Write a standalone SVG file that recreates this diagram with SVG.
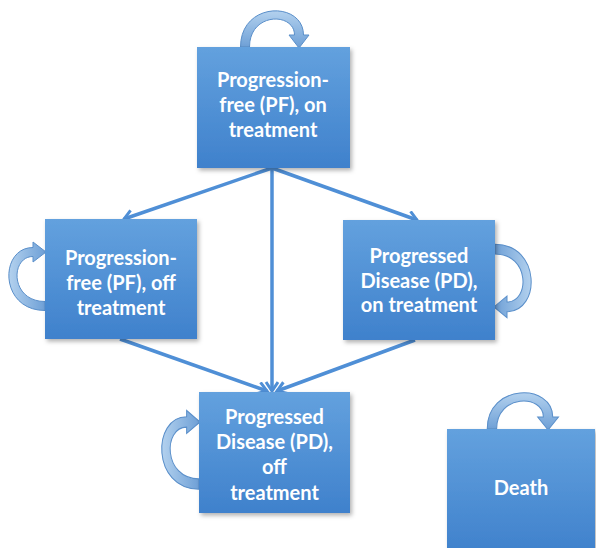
<svg xmlns="http://www.w3.org/2000/svg" width="596" height="548" viewBox="0 0 596 548">
<defs>
<linearGradient id="boxg" x1="0" y1="0" x2="0" y2="1">
<stop offset="0" stop-color="#63a1de"/>
<stop offset="1" stop-color="#3f81cc"/>
</linearGradient>
<linearGradient id="loopg" x1="0" y1="0" x2="0" y2="1">
<stop offset="0" stop-color="#b3d1ee"/>
<stop offset="1" stop-color="#6d9fd6"/>
</linearGradient>
<filter id="sh" x="-10%" y="-10%" width="125%" height="125%">
<feDropShadow dx="2" dy="2.5" stdDeviation="2" flood-color="#000" flood-opacity="0.3"/>
</filter>
<marker id="ah" markerUnits="userSpaceOnUse" markerWidth="16" markerHeight="16" refX="11" refY="7" orient="auto">
<path d="M2,1 L11,7 L2,13" fill="none" stroke="#4f8fd6" stroke-width="3" stroke-linejoin="miter"/>
</marker>
<path id="loop" d="M -31.5 0 C -31.5 -46, 31.5 -46, 31.5 -12 L 37 -12 L 27 1 L 17 -12 L 22.5 -12 C 22.5 -35, -22.5 -35, -22.5 0 Z"/>
</defs>
<style>
.box{fill:url(#boxg);filter:url(#sh);}
.lbl{font-family:Lato,"Open Sans","Liberation Sans",sans-serif;font-weight:700;font-size:20px;fill:#ffffff;text-anchor:middle;}
.lp{fill:url(#loopg);stroke:#5a8fca;stroke-width:1;}
.cn{stroke:#4f8fd6;stroke-width:3.5;fill:none;marker-end:url(#ah);}
</style>
<g id="connectors">
<line class="cn" x1="272" y1="168" x2="124" y2="219"/>
<line class="cn" x1="272" y1="168" x2="417" y2="220"/>
<line class="cn" x1="272" y1="168" x2="272" y2="391"/>
<line class="cn" x1="120" y1="339" x2="267" y2="391"/>
<line class="cn" x1="415" y1="340" x2="277" y2="391"/>
</g>
<g id="self-loops">
<use href="#loop" class="lp" transform="translate(272,47)"/>
<use href="#loop" class="lp" transform="translate(45,279) rotate(-90)"/>
<use href="#loop" class="lp" transform="translate(495,278) rotate(90) scale(1.07,1)"/>
<use href="#loop" class="lp" transform="translate(199,453) rotate(-90) scale(1.15,1.03)"/>
<use href="#loop" class="lp" transform="translate(520,429) scale(1.04,1)"/>
</g>
<g id="node-pf-on">
<rect class="box" x="197" y="47" width="153" height="121"/>
<text class="lbl" x="273" y="87">Progression-</text>
<text class="lbl" x="273" y="112">free (PF), on</text>
<text class="lbl" x="273" y="137">treatment</text>
</g>
<g id="node-pf-off">
<rect class="box" x="45" y="219" width="152" height="120"/>
<text class="lbl" x="121" y="265">Progression-</text>
<text class="lbl" x="121" y="290">free (PF), off</text>
<text class="lbl" x="121" y="315">treatment</text>
</g>
<g id="node-pd-on">
<rect class="box" x="343" y="220" width="152" height="120"/>
<text class="lbl" x="419" y="263">Progressed</text>
<text class="lbl" x="419" y="288">Disease (PD),</text>
<text class="lbl" x="419" y="312">on treatment</text>
</g>
<g id="node-pd-off">
<rect class="box" x="199" y="392" width="151" height="121"/>
<text class="lbl" x="274.5" y="424">Progressed</text>
<text class="lbl" x="274.5" y="449">Disease (PD),</text>
<text class="lbl" x="274.5" y="474">off</text>
<text class="lbl" x="274.5" y="500">treatment</text>
</g>
<g id="node-death">
<rect class="box" x="447" y="429" width="148" height="125"/>
<text class="lbl" x="521" y="495">Death</text>
</g>
</svg>
